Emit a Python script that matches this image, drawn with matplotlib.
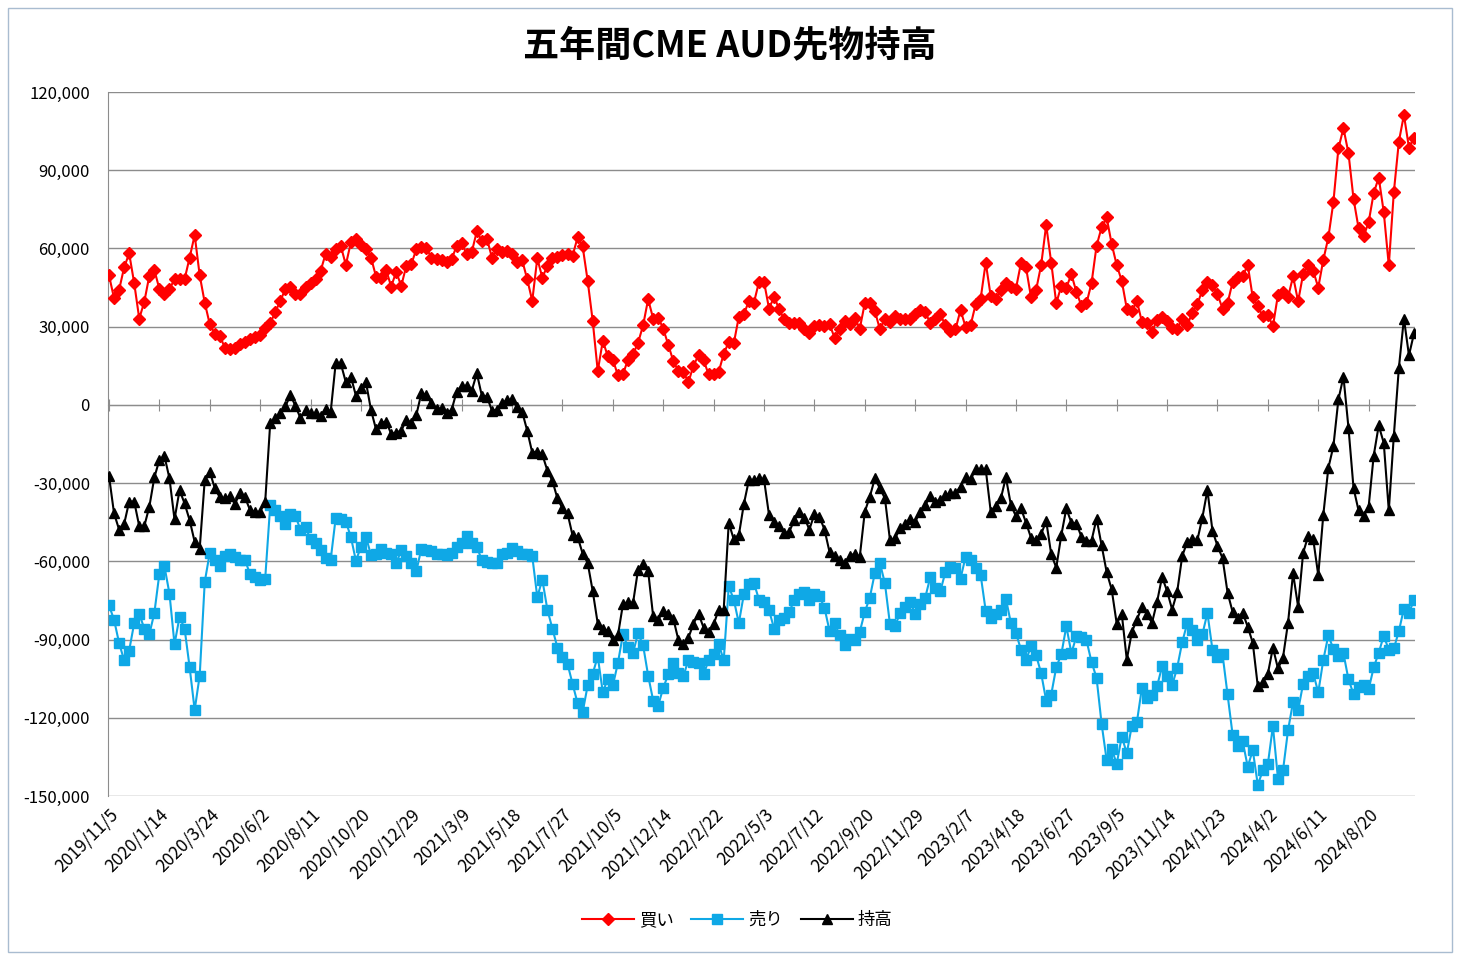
import matplotlib
matplotlib.use('Agg')
import matplotlib.pyplot as plt
import numpy as np
import pandas as pd
from matplotlib.patches import Rectangle

plt.rcParams['font.family'] = ['Noto Sans CJK JP', 'DejaVu Sans']

# 週次データ 2019/11/5 から 260 週
dates = pd.date_range('2019-11-05', periods=260, freq='7D')
date_labels = [f'{d.year}/{d.month}/{d.day}' for d in dates]

buy = [49700, 40900, 44100, 52700, 58100, 46700, 33100, 39500, 49500, 51800,
       44400, 42400, 44400, 48200, 48200, 48200, 56500, 65100, 49700, 39200,
       30900, 27300, 26400, 21900, 21300, 21700, 23200, 24100, 25100, 26000,
       26700, 29600, 31300, 35600, 39900, 44400, 45300, 42400, 42400, 45400,
       46900, 48200, 51400, 58000, 56900, 59700, 61000, 53700, 62300, 63800,
       61300, 59700, 56500, 49200, 48800, 51800, 45400, 51000, 45600, 53300,
       54000, 59700, 60400, 60000, 56500, 55900, 55600, 54900, 55900, 61000,
       61900, 57800, 58700, 66500, 62900, 63800, 56500, 59700, 58500, 59100,
       57800, 54900, 55500, 48200, 39900, 56200, 48800, 53300, 56500, 56900,
       57400, 57800, 57200, 64200, 60800, 47600, 32200, 13000, 24500, 18700,
       17400, 11300, 11700, 17400, 19400, 23800, 30500, 40500, 33100, 33500,
       29200, 23000, 16800, 13000, 12600, 8700, 15100, 19000, 17200, 11700,
       11700, 12600, 19600, 24100, 23600, 33800, 34700, 39900, 39200, 47200,
       47200, 36900, 41500, 36700, 32800, 31500, 31300, 31500, 29000, 27700,
       30300, 30500, 30300, 30900, 25800, 29000, 32200, 30900, 33500, 29200,
       39000, 39000, 36000, 29000, 33100, 31800, 34100, 33100, 33100, 32800,
       34700, 36400, 35600, 31300, 33100, 34700, 30500, 28300, 29000, 36400,
       29900, 30500, 38600, 40800, 54600, 41600, 40700, 44100, 46900, 45400,
       44600, 54400, 52700, 41200, 44100, 53600, 69000, 54600, 39000, 45600,
       45000, 50100, 43300, 38000, 39000, 46700, 61000, 68100, 71900, 61700,
       53600, 47600, 36900, 36000, 39900, 31800, 31300, 28000, 32600, 33800,
       32200, 29600, 29200, 32800, 30500, 35400, 38600, 44100, 47200, 45800,
       42500, 36900, 39000, 47100, 48900, 49300, 53700, 41200, 37800, 33900,
       34600, 30100, 42200, 43300, 41200, 49300, 39700, 50200, 53700, 51400,
       45000, 55600, 64200, 77700, 98400, 106100, 96500, 79000, 67800, 64600,
       70100, 81200, 87200, 73900, 53500, 81600, 101000, 111200, 98700, 102300]

sell = [-76900, -82400, -91300, -98000, -94200, -83700, -80100, -85800, -88000, -79800,
        -64700, -61900, -72400, -91800, -81300, -85800, -100600, -117000, -103800, -67900,
        -56700, -59300, -61900, -58000, -57000, -58300, -59600, -59600, -64900, -66000,
        -67300, -66600, -38400, -40400, -42700, -45700, -41900, -42700, -47800, -46800,
        -51600, -52900, -55700, -58900, -59300, -43200, -43900, -44800, -50600, -59800,
        -54400, -50600, -57600, -57300, -55100, -56700, -57000, -60800, -55700, -58000,
        -60500, -63700, -55100, -55500, -56000, -57000, -57300, -57600, -56700, -54400,
        -52900, -50300, -52900, -54400, -59600, -60200, -60600, -60800, -57000, -56700,
        -54700, -56000, -57000, -57300, -58000, -73700, -67000, -78500, -85800, -93100,
        -96700, -99300, -107000, -114400, -117900, -107600, -103100, -96500, -110200, -105000,
        -107600, -99000, -88000, -92900, -95200, -87500, -92200, -103800, -113400, -115300,
        -108500, -103400, -99000, -102900, -104100, -97700, -98600, -99000, -103400, -98000,
        -95400, -91600, -98000, -69600, -74700, -83700, -72600, -68800, -68300, -74700,
        -75600, -78800, -85800, -82400, -81600, -79400, -74900, -72400, -71700, -74900,
        -72400, -73400, -77800, -86700, -83600, -88400, -92200, -89700, -90100, -87100,
        -79400, -73900, -64400, -60600, -68500, -84200, -84900, -79800, -77500, -75600,
        -80100, -76500, -73900, -66000, -70100, -71400, -64100, -62100, -62400, -66600,
        -58300, -59600, -62400, -65300, -79000, -81800, -80100, -78800, -74300, -83700,
        -87500, -93900, -97900, -92500, -96000, -102900, -113400, -111100, -100600, -95700,
        -84900, -95200, -88800, -89000, -90300, -98600, -104700, -122300, -136200, -131900,
        -137700, -127200, -133600, -123000, -121700, -108500, -112300, -111100, -108000, -100300,
        -103800, -107600, -100800, -91000, -83700, -86200, -90100, -88000, -79800, -93900,
        -96600, -95700, -111000, -126500, -130800, -129000, -138800, -132400, -145700, -140200,
        -137700, -123200, -143300, -140200, -124800, -113900, -117100, -106900, -104000, -102900,
        -110300, -97800, -88400, -93600, -96300, -95300, -105300, -110900, -108300, -107400,
        -109100, -100700, -95100, -88500, -94000, -93400, -86800, -78100, -79700, -74900]

net = [-27300, -41600, -47800, -45700, -37100, -37100, -46500, -46500, -39100, -27800,
       -21100, -19600, -28200, -43900, -32700, -37800, -44200, -52500, -55100, -28800,
       -25600, -32000, -35500, -35900, -35000, -38000, -33700, -35500, -40400, -41000,
       -41000, -37100, -6800, -5100, -3200, -600, 3800, -400, -5100, -1900,
       -3200, -3200, -4200, -1500, -2600, 16200, 15900, 8700, 10800, 3600,
       6500, 8700, -2000, -9400, -6800, -6400, -11100, -10600, -9900, -5800,
       -6800, -3800, 4500, 3800, 600, -1700, -1300, -3200, -1900, 5100,
       7300, 7300, 5500, 12100, 3500, 3200, -2200, -1900, 900, 1700,
       2200, -900, -2600, -9900, -18300, -17900, -19000, -25200, -29100, -35900,
       -39700, -41600, -50000, -50600, -57000, -60600, -71400, -83900, -85800, -86700,
       -90300, -88400, -76500, -75600, -76000, -63200, -61100, -63700, -81100, -82400,
       -79000, -80100, -82000, -90100, -91800, -89300, -83900, -80100, -85400, -87100,
       -84200, -78500, -78500, -45200, -51600, -50000, -38000, -28800, -28800, -28200,
       -28600, -42300, -44800, -46500, -49300, -48700, -44200, -41000, -43200, -47800,
       -41900, -42900, -47800, -56400, -58000, -59300, -60600, -58000, -57000, -58300,
       -41000, -35200, -28200, -32000, -35900, -51900, -51200, -47400, -45700, -43600,
       -44800, -41000, -38400, -35000, -37100, -36300, -34600, -33900, -33700, -31400,
       -27800, -28600, -24700, -24700, -24700, -41000, -38800, -35900, -27800, -38400,
       -42700, -39700, -45200, -51000, -52000, -49600, -44500, -57300, -62400, -50000,
       -39700, -45200, -45500, -50600, -52100, -52100, -43600, -53800, -64100, -70800,
       -83900, -80100, -97700, -87100, -82400, -77500, -80300, -83600, -75600, -66000,
       -71400, -78500, -71700, -58000, -52500, -51600, -51900, -43200, -32700, -48200,
       -54100, -58800, -72000, -79400, -81900, -79700, -85100, -91200, -107900, -106300,
       -103100, -93100, -101100, -96900, -83600, -64600, -77400, -56700, -50300, -51500,
       -65300, -42200, -24200, -15900, 2100, 10800, -8800, -31900, -40500, -42800,
       -39000, -19500, -7900, -14600, -40500, -11800, 14200, 33100, 19000, 27400]

yticks = list(range(-150000, 120001, 30000))

fig = plt.figure(figsize=(14.6, 9.6), dpi=100)
fig.patches.append(Rectangle((8/1460, 8/960), 1444/1460, 944/960, transform=fig.transFigure,
                             fill=False, edgecolor='#a9bcd0', linewidth=1))
ax = fig.add_axes([108/1460, 1-796/960, (1415-108)/1460, (796-92)/960])

x = np.arange(len(buy))
ax.plot(x, buy, color='#ff0000', marker='D', ms=6, lw=1.5, label='買い', zorder=3)
ax.plot(x, sell, color='#0fa8e6', marker='s', ms=6.5, lw=1.5, label='売り', zorder=3)
ax.plot(x, net, color='black', marker='^', ms=7.5, lw=1.5, label='持高', zorder=4)

ax.set_xlim(-0.2, 259.2)
ax.set_ylim(-150000, 120000)
ax.set_yticks(yticks)
ax.set_yticklabels([f'{v:,}' for v in yticks], fontsize=12)
ax.tick_params(axis='y', length=0, pad=13)
ax.grid(axis='y', color='#8c8c8c', lw=1)
ax.set_axisbelow(True)

for s in ['top', 'right']:
    ax.spines[s].set_visible(False)
ax.spines['left'].set_color('#8c8c8c')
ax.spines['bottom'].set_color('#8c8c8c')
ax.spines['bottom'].set_position(('data', 0))

ticks = list(range(0, 260, 10))
ax.set_xticks(ticks)
ax.tick_params(axis='x', direction='inout', length=9, color='#8c8c8c', labelbottom=False)

sec = ax.secondary_xaxis(0)
sec.set_xticks(ticks)
sec.set_xticklabels([date_labels[i] for i in ticks], rotation=45, ha='right',
                    rotation_mode='anchor', fontsize=12.5)
sec.tick_params(length=0, pad=7)
sec.spines['bottom'].set_visible(False)

fig.text(0.5, 1-46/960, '五年間CME AUD先物持高', ha='center', va='center',
         fontsize=26, fontweight='bold')

fig.legend(loc='center', bbox_to_anchor=(0.505, 1-920/960), ncol=3, frameon=False,
           fontsize=12.5, handlelength=3, columnspacing=1.0, handletextpad=0.3)

fig.savefig('out.png', dpi=100)
